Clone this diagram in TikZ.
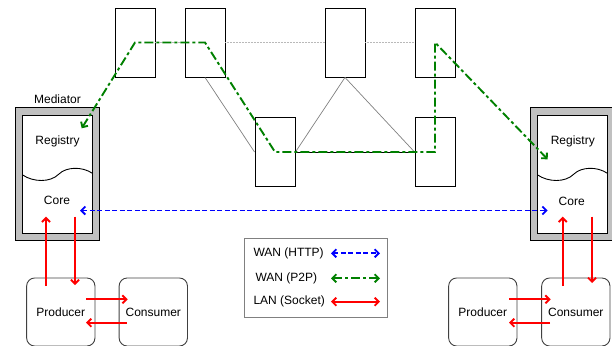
\documentclass[tikz,border=0pt]{standalone}
\usepackage{fontspec}
\setmainfont{Liberation Sans}
\usetikzlibrary{arrows.meta, positioning, calc}
\definecolor{LinkGreen}{HTML}{008000}
\definecolor{LinkBlue}{HTML}{0000FF}
\definecolor{LinkRed}{HTML}{FF0000}
\definecolor{FrameGray}{HTML}{C0C0C0}
\definecolor{MeshGray}{HTML}{808080}

\begin{document}
\begin{tikzpicture}[
    x=1pt, y=-1pt,
    font=\fontsize{12}{14}\selectfont,
    peer/.style={rectangle, draw, line width=0.9pt, minimum width=40pt,
                 minimum height=69pt, inner sep=0pt},
    frame/.style={rectangle, draw, line width=1pt, fill=FrameGray,
                  minimum width=83.6pt, minimum height=132.3pt},
    inner/.style={rectangle, draw, line width=0.9pt, fill=white,
                  minimum width=70pt, minimum height=118pt},
    agent/.style={rectangle, draw=black!75, line width=0.9pt, rounded corners=8pt,
                  minimum width=68.3pt, minimum height=68pt},
    mesh/.style={MeshGray, line width=0.7pt},
    tip/.style={{Straight Barb[length=4pt,width=8pt]}-{Straight Barb[length=4pt,width=8pt]}},
    http/.style={LinkBlue, line width=1.9pt, dash pattern=on 5pt off 2.5pt},
    p2p/.style={LinkGreen, line width=1.9pt, dash pattern=on 9pt off 3pt on 3pt off 3pt},
    lan/.style={LinkRed, line width=1.9pt}
]
    \useasboundingbox (0,0) rectangle (612,345);

    % Overlay peers
    \foreach \n/\x/\y in {peerA/135/42.5, peerB/205/42.5, peerC/275/152,
                          peerD/345/42.5, peerE/435/42.5, peerF/435/152} {
        \node[peer] (\n) at (\x,\y) {};
    }

    % Overlay links
    \draw[gray!55, line width=1.1pt, dash pattern=on 1pt off 0.5pt] (peerA.east) -- (peerB.west);
    \draw[gray!55, line width=1.1pt, dash pattern=on 1pt off 0.5pt] (peerB.east) -- (peerD.west);
    \draw[gray!55, line width=1.1pt, dash pattern=on 1pt off 0.5pt] (peerD.east) -- (peerE.west);
    \draw[mesh] (peerB.south) -- (peerC.west);
    \draw[mesh] (peerD.south) -- (peerC.east);
    \draw[mesh] (peerD.south) -- (peerF.west);
    \draw[line width=0.7pt] (peerC.east) -- (peerF.west);

    % Mediators
    \node[frame] (medL) at (57.5,174) {};
    \node[inner] (inL) at (57.7,174) {};
    \node[above=0pt of medL] (medLabel) {Mediator};
    \node[frame] (medR) at (572.7,174) {};
    \node[inner] (inR) at (572.7,174) {};
    \foreach \x in {22.7,537.7} {
        \draw[line width=0.9pt] (\x,175) .. controls (\x+10.3,182) and (\x+27.3,183) .. (\x+36.3,174)
            .. controls (\x+43.3,167) and (\x+59.3,166) .. (\x+70,173.5);
    }
    \node (regL) at (57.5,141.7) {Registry};
    \node (coreL) at (57,200.5) {Core};
    \node (regR) at (572.8,141.7) {Registry};
    \node (coreR) at (571.7,201.5) {Core};

    % Producers and consumers
    \node[agent] (prodL) at (60.8,312) {Producer};
    \node[agent] (consL) at (153.3,312) {Consumer};
    \node[agent] (prodR) at (482.8,312) {Producer};
    \node[agent] (consR) at (575.8,312) {Consumer};

    % Link end points
    \coordinate (p2pL) at (81.7,128.3);
    \coordinate (p2pR) at (547.7,159.3);
    \coordinate (httpL) at (80,210.5);
    \coordinate (httpR) at (547.7,210.5);

    % WAN links
    \draw[p2p, tip] (p2pL) -- (peerA.center) -- (peerB.center) -- (peerC.center)
        -- (peerF.center) -- (peerE.center) -- (p2pR);
    \draw[http, tip] (httpL) -- (httpR);

    % LAN links
    \draw[lan, -{Straight Barb[length=4pt,width=8pt]}] (46,286) -- (46,216.7);
    \draw[lan, -{Straight Barb[length=4pt,width=8pt]}] (75,216.7) -- (75,285);
    \draw[lan, -{Straight Barb[length=4pt,width=8pt]}] (86,299.3) -- (127.7,299.3);
    \draw[lan, -{Straight Barb[length=4pt,width=8pt]}] (126.7,322.7) -- (86,322.7);
    \draw[lan, -{Straight Barb[length=4pt,width=8pt]}] (562.7,286) -- (562.7,216.7);
    \draw[lan, -{Straight Barb[length=4pt,width=8pt]}] (592,216.7) -- (592,283);
    \draw[lan, -{Straight Barb[length=4pt,width=8pt]}] (509,299.3) -- (550.7,299.3);
    \draw[lan, -{Straight Barb[length=4pt,width=8pt]}] (550,322.7) -- (509,322.7);

    % Legend
    \node[draw=MeshGray, line width=0.9pt, minimum width=143.3pt, minimum height=79.4pt]
        (legend) at (315.7,278) {};
    \node[anchor=west] (keyHttp) at (250,253.3) {WAN (HTTP)};
    \node[anchor=west] (keyP2p) at (252,278.3) {WAN (P2P)};
    \node[anchor=west] (keyLan) at (250,301.7) {LAN (Socket)};
    \draw[http, tip] (331,253.3) -- (380,253.3);
    \draw[p2p, tip] (331,278.3) -- (380,278.3);
    \draw[lan, tip] (331,301.7) -- (380,301.7);
\end{tikzpicture}
\end{document}
